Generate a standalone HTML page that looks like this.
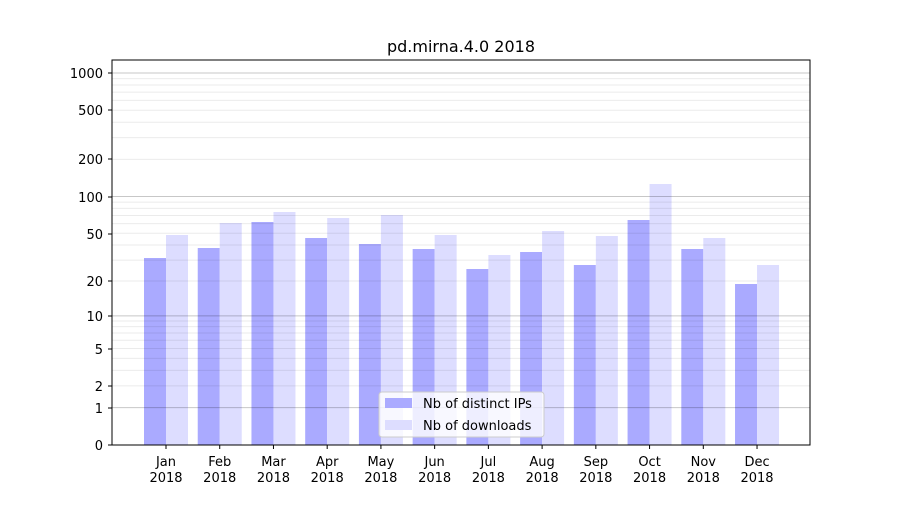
<!DOCTYPE html>
<html><head><meta charset="utf-8"><style>
body{margin:0;background:#fff;}
svg text{font-family:"DejaVu Sans","Liberation Sans",sans-serif;}
</style></head><body>
<svg id="s" width="900" height="500" xmlns="http://www.w3.org/2000/svg">
<rect width="900" height="500" fill="#fff"/>
<g id="bars"></g>
<g id="grid"></g>
<rect x="112" y="60" width="698" height="385" fill="none" stroke="#000" stroke-width="1"/>
<g id="ticks" font-size="13" fill="#000"></g>
<text x="461" y="52" font-size="16" text-anchor="middle">pd.mirna.4.0 2018</text>
<g>
<rect x="379" y="392" width="165" height="45" rx="3" fill="#fff" fill-opacity="0.8" stroke="#ccc"/>
<rect x="385" y="398" width="27" height="10" fill="#aaaaff"/>
<text x="423" y="408" font-size="13">Nb of distinct IPs</text>
<rect x="385" y="420" width="27" height="10" fill="#ddddff"/>
<text x="423" y="430" font-size="13">Nb of downloads</text>
</g>
</svg>
<script>
const NS="http://www.w3.org/2000/svg";
function el(p,t,a,txt){const e=document.createElementNS(NS,t);for(const k in a)e.setAttribute(k,a[k]);if(txt!==undefined)e.textContent=txt;p.appendChild(e);return e;}
const Y=v=>445-124*Math.log10(1+v);
const g=document.getElementById('grid'),tk=document.getElementById('ticks'),b=document.getElementById('bars');
for(let d of [1,10,100]){for(let m=2;m<=9;m++){const y=Y(m*d);el(g,'line',{x1:112,x2:810,y1:y,y2:y,stroke:'rgba(0,0,0,0.08)','stroke-width':1});}}
for(let v of [1,10,100,1000]){const y=Y(v);el(g,'line',{x1:112,x2:810,y1:y,y2:y,stroke:'rgba(0,0,0,0.22)','stroke-width':1});}
const labs=[[0,445],[1,408],[2,386],[5,349],[10,316],[20,281],[50,234],[100,197],[200,159],[500,110],[1000,73]];
for(const [l,y] of labs){el(tk,'line',{x1:108,x2:112,y1:y,y2:y,stroke:'#000'});el(tk,'text',{x:103,y:y+5,'text-anchor':'end'},String(l));}
const mon=['Jan','Feb','Mar','Apr','May','Jun','Jul','Aug','Sep','Oct','Nov','Dec'];
const blue=[258,248,222,238,244,249,269,252,265,220,249,284];
const light=[235,223,212,218,215,235,255,231,236,184,238,265];
for(let i=0;i<12;i++){const c=166+i*53.73;
el(b,'rect',{x:c-22,y:blue[i],width:22,height:445-blue[i],fill:'#aaaaff'});
el(b,'rect',{x:c,y:light[i],width:22,height:445-light[i],fill:'#ddddff'});
el(tk,'line',{x1:c,x2:c,y1:445,y2:449,stroke:'#000'});
el(tk,'text',{x:c,y:466,'text-anchor':'middle'},mon[i]);
el(tk,'text',{x:c,y:482,'text-anchor':'middle'},'2018');}
</script>
</body></html>
